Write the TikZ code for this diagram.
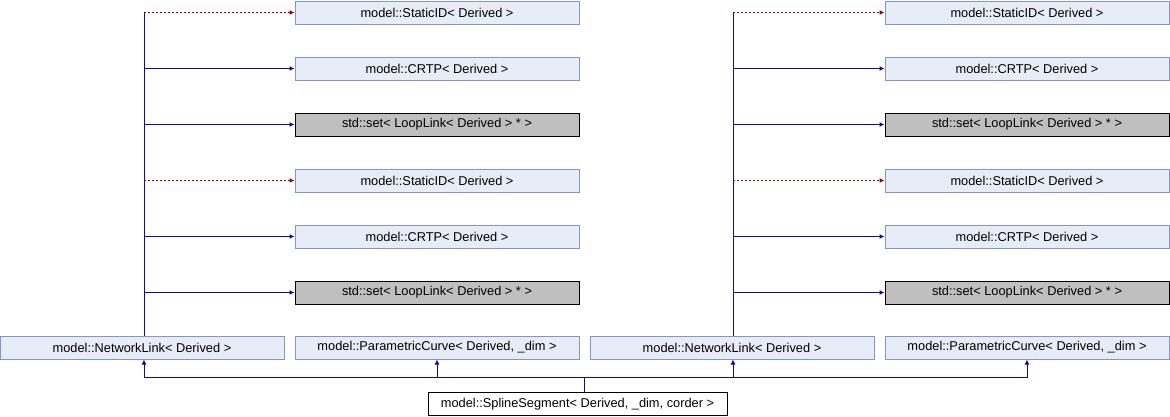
\documentclass[tikz,border=0pt]{standalone}
\usepackage{fontspec}
\setmainfont{Liberation Sans}
\usetikzlibrary{arrows.meta}
\definecolor{boxfill}{HTML}{E8ECF6}
\definecolor{boxline}{HTML}{7F98CC}
\definecolor{greyfill}{HTML}{BFBFBF}
\definecolor{pubedge}{HTML}{0C0C9C}
\definecolor{privedge}{HTML}{9C0000}
\tikzset{class/.style={draw=boxline,fill=boxfill,line width=1pt,minimum width=284pt,minimum height=23pt,inner sep=0pt,font=\fontsize{12.8}{15}\selectfont},
extclass/.style={class,draw=black,fill=greyfill},
leafclass/.style={class,draw=black,fill=white,minimum width=299pt},
inh/.style={draw=pubedge,line width=1pt,-{Latex[length=5pt,width=5pt]}},
privinh/.style={draw=privedge,line width=1pt,dash pattern=on 2pt off 2pt,-{Latex[length=5pt,width=5pt]}},
trunk/.style={draw=pubedge,line width=1pt}}

\begin{document}
\begin{tikzpicture}[x=1pt,y=-1pt]
\useasboundingbox (0,0) rectangle (1170,416);

%% Coordinates of nodes.
\coordinate (nA1) at (437,12.5);
\coordinate (nA2) at (437,68.5);
\coordinate (nA3) at (437,124.5);
\coordinate (nA4) at (437,180.5);
\coordinate (nA5) at (437,236.5);
\coordinate (nA6) at (437,292.5);
\coordinate (nB1) at (1027,12.5);
\coordinate (nB2) at (1027,68.5);
\coordinate (nB3) at (1027,124.5);
\coordinate (nB4) at (1027,180.5);
\coordinate (nB5) at (1027,236.5);
\coordinate (nB6) at (1027,292.5);
\coordinate (nlA) at (142,347.5);
\coordinate (pcA) at (437,347.5);
\coordinate (nlB) at (732,347.5);
\coordinate (pcB) at (1027,347.5);
\coordinate (ssp) at (577.5,404);

%% trunk points
\coordinate (tA1) at (144,12.5);
\coordinate (tA2) at (144,68.5);
\coordinate (tA3) at (144,124.5);
\coordinate (tA4) at (144,180.5);
\coordinate (tA5) at (144,236.5);
\coordinate (tA6) at (144,292.5);
\coordinate (tB1) at (733,12.5);
\coordinate (tB2) at (733,68.5);
\coordinate (tB3) at (733,124.5);
\coordinate (tB4) at (733,180.5);
\coordinate (tB5) at (733,236.5);
\coordinate (tB6) at (733,292.5);
\coordinate (bus) at (584,377);

%% class boxes
\foreach \c in {A,B} {
  \node [class] (sid1\c) at (n\c1) {model::StaticID< Derived >};
  \node [class] (crtp1\c) at (n\c2) {model::CRTP< Derived >};
  \node [extclass] (set1\c) at (n\c3) {std::set< LoopLink< Derived > * >};
  \node [class] (sid2\c) at (n\c4) {model::StaticID< Derived >};
  \node [class] (crtp2\c) at (n\c5) {model::CRTP< Derived >};
  \node [extclass] (set2\c) at (n\c6) {std::set< LoopLink< Derived > * >};
}
\node [class] (netA) at (nlA) {model::NetworkLink< Derived >};
\node [class] (curA) at (pcA) {model::ParametricCurve< Derived, \_dim >};
\node [class] (netB) at (nlB) {model::NetworkLink< Derived >};
\node [class] (curB) at (pcB) {model::ParametricCurve< Derived, \_dim >};
\node [leafclass] (spline) at (ssp) {model::SplineSegment< Derived, \_dim, corder >};

%% vertical lines
\draw [trunk] (tA1) -- (tA1 |- netA.north);
\draw [trunk] (tB1) -- (tB1 |- netB.north);

%% horizontal arrows
\foreach \c in {A,B} {
  \draw [privinh] (t\c1) -- (sid1\c.west);
  \draw [inh] (t\c2) -- (crtp1\c.west);
  \draw [inh] (t\c3) -- (set1\c.west);
  \draw [privinh] (t\c4) -- (sid2\c.west);
  \draw [inh] (t\c5) -- (crtp2\c.west);
  \draw [inh] (t\c6) -- (set2\c.west);
}

%% bottom bus
\draw [trunk] (spline.north -| bus) -- (bus);
\draw [inh] (bus) -| (netA.south -| tA1);
\draw [inh] (bus) -| (curA.south);
\draw [inh] (bus) -| (netB.south -| tB1);
\draw [inh] (bus) -| (curB.south);

\end{tikzpicture}
\end{document}
